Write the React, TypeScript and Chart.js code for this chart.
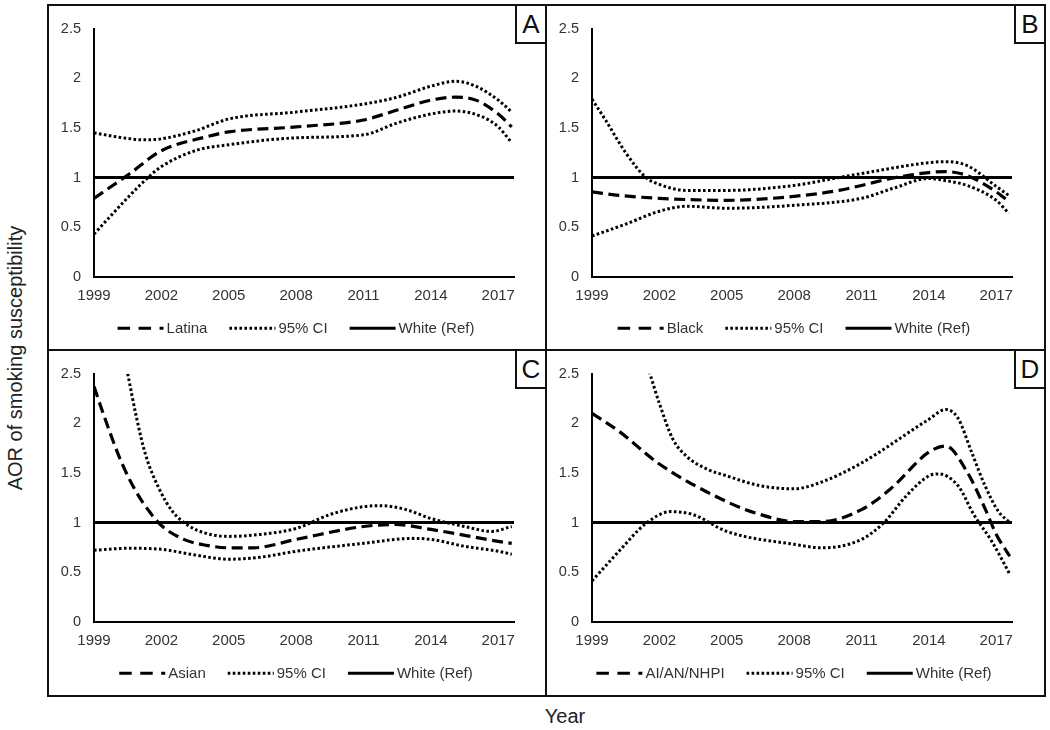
import React, { useEffect, useRef } from "react";
import { Chart, registerables } from "chart.js";

Chart.register(...registerables);

// ---------------- Data ----------------
const xTickYears = [1999, 2002, 2005, 2008, 2011, 2014, 2017];
const xMin = 1999;
const xMax = 2017.7;
const yMin = 0;
const yMax = 2.5;
const yStep = 0.5;

const refLabel = "White (Ref)";
const ciLabel = "95% CI";
const refYears = [1999, 2017.7];
const refAOR = [1, 1];

// Panel A – Latina
const latinaYears = [1999, 2000.6, 2002, 2004, 2005, 2008, 2011, 2012.5, 2014, 2015.1, 2016, 2017, 2017.6];
const latinaAOR = [0.79, 1.04, 1.27, 1.41, 1.46, 1.51, 1.58, 1.68, 1.78, 1.81, 1.78, 1.64, 1.51];
const latinaUpperYears = [1999, 2000.3, 2001.2, 2002, 2003.5, 2005, 2008, 2011, 2012.5, 2014, 2015.1, 2016, 2017, 2017.6];
const latinaUpper = [1.45, 1.4, 1.38, 1.39, 1.47, 1.59, 1.66, 1.74, 1.81, 1.92, 1.97, 1.92, 1.78, 1.66];
const latinaLowerYears = [1999, 2000.6, 2001.5, 2002, 2003.5, 2005, 2008, 2011, 2012.5, 2014, 2015.1, 2016.3, 2017, 2017.6];
const latinaLower = [0.43, 0.82, 1.02, 1.11, 1.27, 1.33, 1.4, 1.43, 1.55, 1.64, 1.67, 1.61, 1.51, 1.35];

// Panel B – Black
const blackYears = [1999, 2000.2, 2002, 2005, 2008, 2010, 2011, 2012.3, 2014, 2014.7, 2015.7, 2017, 2017.55];
const blackAOR = [0.855, 0.82, 0.79, 0.77, 0.81, 0.87, 0.92, 0.99, 1.05, 1.06, 1.02, 0.855, 0.76];
const blackUpperYears = [1999, 1999.6, 2000.5, 2001.4, 2002, 2003.2, 2005, 2008, 2010, 2011, 2014, 2014.7, 2015.7, 2017, 2017.55];
const blackUpper = [1.79, 1.58, 1.25, 1.0, 0.93, 0.87, 0.87, 0.92, 1.0, 1.04, 1.15, 1.16, 1.12, 0.91, 0.82];
const blackLowerYears = [1999, 2000.5, 2002, 2003.2, 2005, 2008, 2011, 2012.4, 2014, 2014.7, 2015.7, 2017, 2017.55];
const blackLower = [0.41, 0.53, 0.66, 0.71, 0.69, 0.72, 0.79, 0.89, 0.99, 0.97, 0.92, 0.77, 0.64];

// Panel C – Asian
const asianYears = [1999, 1999.5, 2000.2, 2000.85, 2001.5, 2002, 2003, 2004, 2005, 2006.1, 2008, 2011, 2012.4, 2014, 2017, 2017.6];
const asianAOR = [2.37, 2.04, 1.62, 1.32, 1.1, 0.97, 0.83, 0.77, 0.745, 0.745, 0.83, 0.96, 0.98, 0.93, 0.81, 0.79];
const asianUpperYears = [2000.5, 2000.9, 2001.3, 2001.9, 2002.5, 2003.2, 2004, 2005, 2006.4, 2008, 2009.5, 2011, 2011.7, 2012.9, 2014, 2015.5, 2016.7, 2017.6];
const asianUpper = [2.5, 2.05, 1.68, 1.34, 1.11, 0.97, 0.89, 0.86, 0.88, 0.94, 1.08, 1.16, 1.17, 1.13, 1.04, 0.96, 0.91, 0.96];
const asianLowerYears = [1999, 2000.5, 2002, 2003.3, 2005, 2006.4, 2008, 2011, 2013.2, 2014, 2015.5, 2017, 2017.6];
const asianLower = [0.72, 0.74, 0.73, 0.68, 0.63, 0.65, 0.71, 0.79, 0.84, 0.83, 0.76, 0.71, 0.68];

// Panel D – AI/AN/NHPI
const aianYears = [1999, 2000.2, 2002, 2005, 2006.5, 2008, 2009.25, 2011, 2012.3, 2014, 2014.75, 2015.7, 2016.5, 2017, 2017.6];
const aianAOR = [2.1, 1.92, 1.59, 1.21, 1.08, 1.01, 1.01, 1.13, 1.34, 1.71, 1.77, 1.51, 1.14, 0.88, 0.66];
const aianUpperYears = [2001.55, 2002, 2002.6, 2003.2, 2004.1, 2005, 2006.5, 2008, 2009.25, 2011, 2014, 2014.75, 2015.3, 2015.9, 2016.5, 2017.1, 2017.6];
const aianUpper = [2.52, 2.2, 1.84, 1.67, 1.54, 1.47, 1.37, 1.34, 1.41, 1.6, 2.04, 2.14, 2.05, 1.71, 1.37, 1.11, 1.0];
const aianLowerYears = [1999, 2000.2, 2001.4, 2002.5, 2003.5, 2005, 2008, 2009.25, 2011, 2012, 2013, 2014, 2014.4, 2015.3, 2016, 2016.8, 2017.6];
const aianLower = [0.41, 0.71, 0.99, 1.11, 1.08, 0.91, 0.78, 0.745, 0.83, 1.0, 1.27, 1.47, 1.49, 1.37, 1.08, 0.81, 0.48];

// ---------------- Styles ----------------
const FONT = "'Liberation Sans', Arial, Helvetica, sans-serif";
const TEXT = "#333";
const INK = "#000";
const DASH = [11, 5.5];
const DASH_LEGEND = [12.5, 8.5];
const DOT = [2.6, 2.4];

type Series = { years: number[]; values: number[] };
type Box = { left: number; top: number; width: number; height: number };
type Area = { left: number; top: number; right: number; bottom: number };

const toPoints = (xs: number[], ys: number[]) => xs.map((x, i) => ({ x, y: ys[i] }));

const panelLegend = {
  id: "panelLegend",
  afterDraw(chart: any, _args: any, opts: any) {
    const { ctx, chartArea } = chart;
    const items = chart.data.datasets.filter((d: any) => d.inLegend);
    ctx.save();
    ctx.font = `${opts.fontSize}px ${FONT}`;
    const widths = items.map((d: any) => opts.sample + opts.textGap + ctx.measureText(d.label).width);
    const total = widths.reduce((a: number, b: number) => a + b, 0) + opts.itemGap * (items.length - 1);
    let x = (chartArea.left + chartArea.right) / 2 + opts.shift - total / 2;
    const y = chartArea.bottom + opts.offset;
    items.forEach((d: any, i: number) => {
      ctx.beginPath();
      ctx.setLineDash(d.legendDash || []);
      ctx.lineWidth = 3;
      ctx.strokeStyle = d.borderColor;
      ctx.lineCap = "butt";
      ctx.moveTo(x, y);
      ctx.lineTo(x + opts.sample, y);
      ctx.stroke();
      ctx.setLineDash([]);
      ctx.fillStyle = opts.color;
      ctx.textAlign = "left";
      ctx.textBaseline = "middle";
      ctx.fillText(d.label, x + opts.sample + opts.textGap, y + 1);
      x += widths[i] + opts.itemGap;
    });
    ctx.restore();
  },
};

function Panel(props: {
  group: string;
  est: Series;
  upper: Series;
  lower: Series;
  box: Box;
  area: Area;
}) {
  const ref = useRef<HTMLCanvasElement | null>(null);
  const { group, est, upper, lower, box, area } = props;

  useEffect(() => {
    if (!ref.current) return;
    const yAxisWidth = area.left - box.left;
    const padTop = area.top - box.top;
    const padRight = box.left + box.width - area.right;
    const xAxisHeight = 30;
    const padBottom = box.top + box.height - area.bottom - xAxisHeight;

    const lineBase = {
      borderColor: INK,
      backgroundColor: INK,
      fill: false,
      pointRadius: 0,
      cubicInterpolationMode: "monotone" as const,
    };

    const chart = new Chart(ref.current, {
      type: "line",
      data: {
        datasets: [
          {
            ...lineBase,
            label: group,
            data: toPoints(est.years, est.values),
            borderWidth: 3.2,
            borderDash: DASH,
            inLegend: true,
            legendDash: DASH_LEGEND,
          } as any,
          {
            ...lineBase,
            label: ciLabel,
            data: toPoints(upper.years, upper.values),
            borderWidth: 3,
            borderDash: DOT,
            inLegend: true,
            legendDash: DOT,
          } as any,
          {
            ...lineBase,
            label: ciLabel + " (lower)",
            data: toPoints(lower.years, lower.values),
            borderWidth: 3,
            borderDash: DOT,
            inLegend: false,
          } as any,
          {
            ...lineBase,
            label: refLabel,
            data: toPoints(refYears, refAOR),
            borderWidth: 3,
            tension: 0,
            inLegend: true,
            legendDash: [],
          } as any,
        ],
      },
      options: {
        responsive: false,
        animation: false,
        events: [],
        layout: { padding: { top: padTop, right: padRight, bottom: padBottom, left: 0 } },
        plugins: {
          legend: { display: false },
          tooltip: { enabled: false },
          panelLegend: {
            fontSize: 15,
            sample: 46,
            textGap: 3,
            itemGap: 22,
            shift: -8,
            offset: 51.6,
            color: TEXT,
          },
        } as any,
        scales: {
          x: {
            type: "linear",
            min: xMin,
            max: xMax,
            grid: { display: false, drawTicks: false, tickLength: 0 },
            border: { display: true, color: INK, width: 2 },
            afterBuildTicks: (s: any) => {
              s.ticks = xTickYears.map((v) => ({ value: v }));
            },
            afterFit: (s: any) => {
              s.height = xAxisHeight;
            },
            ticks: {
              autoSkip: false,
              maxRotation: 0,
              padding: 10,
              color: TEXT,
              font: { family: FONT, size: 15 },
              callback: (v: any) => String(v),
            },
          },
          y: {
            min: yMin,
            max: yMax,
            grid: { display: false, drawTicks: false, tickLength: 0 },
            border: { display: true, color: INK, width: 2 },
            afterFit: (s: any) => {
              s.width = yAxisWidth;
            },
            ticks: {
              stepSize: yStep,
              padding: 13,
              color: TEXT,
              font: { family: FONT, size: 14.5 },
              callback: (v: any) => String(Math.round(Number(v) * 10) / 10),
            },
          },
        },
      },
      plugins: [panelLegend as any],
    });
    return () => chart.destroy();
  }, []);

  return (
    <canvas
      ref={ref}
      width={box.width}
      height={box.height}
      style={{ position: "absolute", left: box.left, top: box.top, width: box.width, height: box.height }}
    />
  );
}

function LetterBox(props: { letter: string; left: number; top: number; width: number; height: number }) {
  const { letter, left, top, width, height } = props;
  return (
    <div
      style={{
        position: "absolute",
        left,
        top,
        width,
        height,
        boxSizing: "border-box",
        border: "2px solid #111",
        background: "#fff",
        font: `26px ${FONT}`,
        color: "#111",
        display: "flex",
        alignItems: "center",
        justifyContent: "center",
      }}
    >
      {letter}
    </div>
  );
}

export default function App() {
  return (
    <div style={{ position: "absolute", left: 0, top: 0, width: 1050, height: 730, background: "#fff", overflow: "hidden" }}>
      {/* outer frame & dividers */}
      <div style={{ position: "absolute", left: 47, top: 4, width: 999, height: 693, boxSizing: "border-box", border: "2px solid #111" }} />
      <div style={{ position: "absolute", left: 545, top: 4, width: 2, height: 693, background: "#111" }} />
      <div style={{ position: "absolute", left: 47, top: 349, width: 999, height: 2, background: "#111" }} />

      <Panel
        group="Latina"
        est={{ years: latinaYears, values: latinaAOR }}
        upper={{ years: latinaUpperYears, values: latinaUpper }}
        lower={{ years: latinaLowerYears, values: latinaLower }}
        box={{ left: 50, top: 7, width: 495, height: 342 }}
        area={{ left: 94, top: 23.3, right: 514, bottom: 276.7 }}
      />
      <Panel
        group="Black"
        est={{ years: blackYears, values: blackAOR }}
        upper={{ years: blackUpperYears, values: blackUpper }}
        lower={{ years: blackLowerYears, values: blackLower }}
        box={{ left: 548, top: 7, width: 495, height: 342 }}
        area={{ left: 592, top: 23.3, right: 1012, bottom: 276.7 }}
      />
      <Panel
        group="Asian"
        est={{ years: asianYears, values: asianAOR }}
        upper={{ years: asianUpperYears, values: asianUpper }}
        lower={{ years: asianLowerYears, values: asianLower }}
        box={{ left: 50, top: 352, width: 495, height: 343 }}
        area={{ left: 94, top: 370, right: 514, bottom: 621.7 }}
      />
      <Panel
        group="AI/AN/NHPI"
        est={{ years: aianYears, values: aianAOR }}
        upper={{ years: aianUpperYears, values: aianUpper }}
        lower={{ years: aianLowerYears, values: aianLower }}
        box={{ left: 548, top: 352, width: 495, height: 343 }}
        area={{ left: 592, top: 370, right: 1012, bottom: 621.7 }}
      />

      <LetterBox letter="A" left={515} top={4} width={32} height={40} />
      <LetterBox letter="B" left={1014} top={4} width={32} height={40} />
      <LetterBox letter="C" left={515} top={349} width={32} height={40} />
      <LetterBox letter="D" left={1014} top={349} width={32} height={40} />

      <div
        style={{
          position: "absolute",
          left: 16 - 160,
          top: 358 - 12,
          width: 320,
          height: 24,
          lineHeight: "24px",
          textAlign: "center",
          transform: "rotate(-90deg)",
          font: `20px ${FONT}`,
          color: "#222",
          whiteSpace: "nowrap",
        }}
      >
        AOR of smoking susceptibility
      </div>
      <div
        style={{
          position: "absolute",
          left: 565 - 50,
          top: 717 - 12,
          width: 100,
          height: 24,
          lineHeight: "24px",
          textAlign: "center",
          font: `20px ${FONT}`,
          color: "#222",
        }}
      >
        Year
      </div>
    </div>
  );
}
